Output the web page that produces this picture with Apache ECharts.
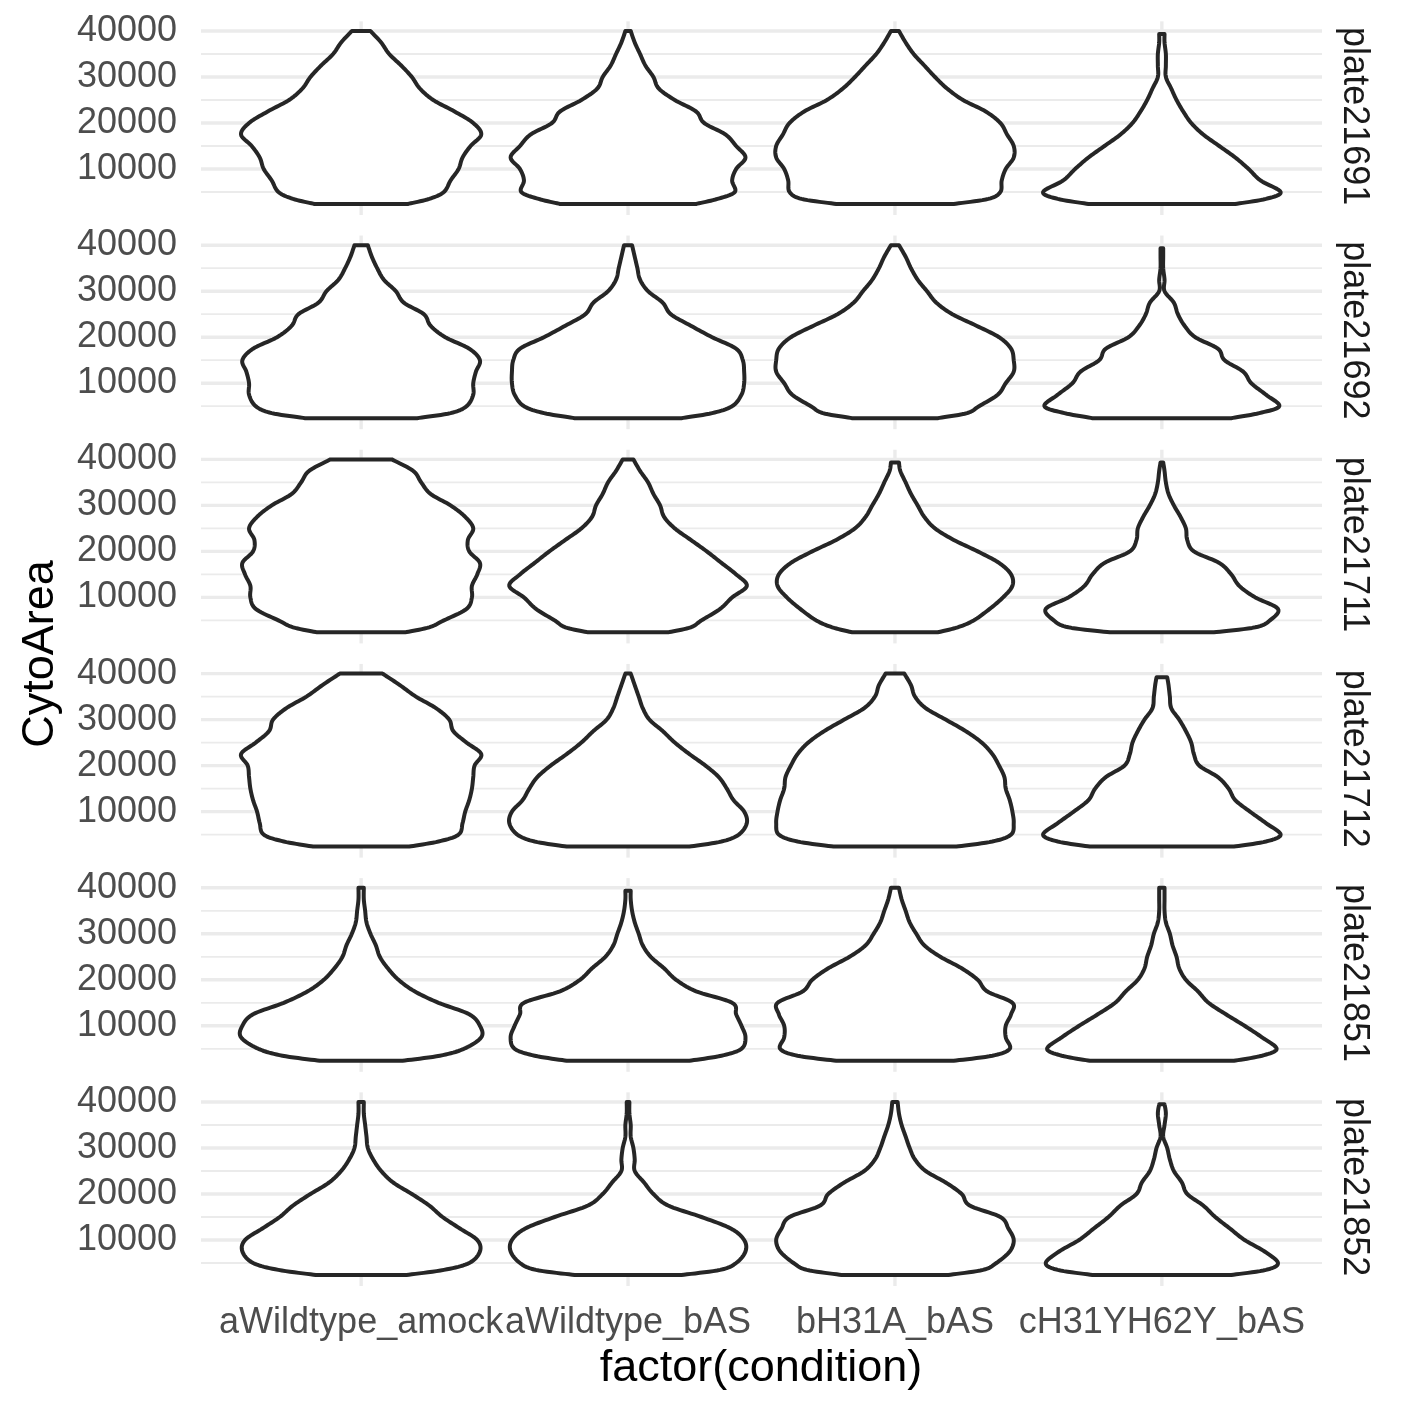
<!DOCTYPE html>
<html><head><meta charset="utf-8">
<script src="https://cdn.jsdelivr.net/npm/echarts@6/dist/echarts.min.js"></script>
<style>html,body{margin:0;padding:0;background:#fff}#chart{width:1417px;height:1417px}</style>
</head><body><div id="chart"></div><script>
// ---------------- DATA ----------------
const categories = ['aWildtype_amock', 'aWildtype_bAS', 'bH31A_bAS', 'cH31YH62Y_bAS'];
const plates = ['plate21691', 'plate21692', 'plate21711', 'plate21712', 'plate21851', 'plate21852'];
const xPositions = [1, 2, 3, 4];
// CytoArea levels at which the violin widths are read (first = data minimum, last = default maximum)
const yLevels = [2400, 3500, 5000, 7500, 10000, 12500, 15000, 17500, 20000, 22500, 25000, 27500, 30000, 32500, 35000, 37500, 40000];
const yMajorTicks = [10000, 20000, 30000, 40000];
const yMinorTicks = [5000, 15000, 25000, 35000];

// violin width (% of one category step) at each level, bottom -> top, one list per condition
const p21691 = [
  [35, 51, 62, 67, 73, 76, 82, 90, 84, 70, 54, 44, 38, 30, 21, 15, 7],
  [51, 67, 80, 78, 81, 88, 81, 73, 57, 51, 35, 23, 19, 13, 9, 5, 2],
  [44, 70, 79, 80, 83, 89, 89, 84, 79, 68, 51, 39, 30, 22, 14, 8, 3],
  [55, 78, 89, 74, 65, 55, 43, 31, 22, 16, 11, 7, 3, 3, 3, 2, 2]
];
const p21692 = [
  [42, 67, 79, 84, 84, 86, 89, 81, 63, 52, 47, 32, 26, 17, 12, 8, 5],
  [40, 63, 78, 85, 87, 87, 86, 81, 63, 47, 32, 26, 15, 9, 7, 5, 3],
  [32, 54, 63, 77, 83, 89, 89, 87, 78, 61, 43, 31, 24, 17, 12, 8, 3],
  [52, 73, 88, 78, 67, 61, 47, 42, 25, 17, 12, 9, 2, 2, 1, 1, 1]
];
const p21711 = [
  [33, 51, 62, 79, 83, 83, 87, 89, 81, 80, 84, 78, 67, 52, 45, 39, 23],
  [30, 47, 55, 69, 78, 89, 81, 70, 59, 47, 35, 27, 24, 19, 15, 9, 4],
  [32, 47, 59, 71, 81, 88, 87, 78, 62, 44, 30, 22, 17, 12, 8, 4, 3],
  [39, 70, 81, 87, 70, 58, 52, 43, 24, 19, 18, 14, 9, 5, 3, 2, 1]
];
const p21712 = [
  [36, 58, 73, 76, 78, 81, 83, 84, 85, 90, 79, 69, 66, 56, 41, 29, 16],
  [46, 70, 83, 89, 87, 79, 74, 68, 58, 46, 35, 26, 16, 11, 8, 5, 2],
  [46, 73, 87, 89, 88, 86, 83, 82, 78, 73, 65, 53, 38, 23, 15, 12, 7],
  [54, 78, 89, 78, 66, 55, 50, 42, 28, 24, 22, 18, 13, 7, 6, 5, 4]
];
const p21851 = [
  [31, 59, 77, 90, 89, 81, 58, 40, 28, 20, 14, 11, 7, 4, 3, 2, 2],
  [46, 70, 85, 88, 85, 81, 78, 51, 36, 27, 17, 11, 8, 5, 3, 2, 2],
  [44, 73, 86, 83, 83, 87, 88, 69, 62, 50, 34, 22, 16, 11, 8, 5, 3],
  [54, 75, 86, 75, 62, 48, 35, 27, 18, 13, 11, 8, 6, 3, 2, 2, 2]
];
const p21852 = [
  [34, 62, 81, 89, 87, 74, 61, 51, 38, 24, 15, 9, 5, 4, 3, 2, 2],
  [40, 69, 81, 88, 87, 77, 55, 30, 19, 12, 5, 5, 4, 2, 2, 1, 1],
  [40, 66, 76, 86, 89, 85, 79, 56, 50, 38, 23, 15, 11, 8, 5, 3, 2],
  [52, 78, 87, 77, 62, 51, 40, 31, 19, 15, 9, 6, 4, 1, 2, 3, 2]
];
// maximum CytoArea of each violin (top of the violin)
const top21691 = [40000, 40000, 40000, 39350];
const top21692 = [40000, 40000, 40000, 39350];
const top21711 = [40000, 40000, 39350, 39350];
const top21712 = [40000, 40000, 40000, 39200];
const top21851 = [40000, 39350, 40000, 40000];
const top21852 = [40000, 40000, 40000, 39500];

const violinWidths = [p21691, p21692, p21711, p21712, p21851, p21852];
const violinTops = [top21691, top21692, top21711, top21712, top21851, top21852];

// ---------------- LAYOUT / STYLE ----------------
const FONT = '"Liberation Sans", Arial, Helvetica, sans-serif';
const GRID_LEFT = 201, GRID_WIDTH = 1121;
const TOP0 = 21.34, ROW_STEP = 214.2, ROW_H = 193.66;
const GRID_COLOR = '#EBEBEB';

function catmullRom(pts, steps) {
  const out = [];
  const n = pts.length;
  for (let i = 0; i < n - 1; i++) {
    const p0 = pts[Math.max(0, i - 1)], p1 = pts[i], p2 = pts[i + 1], p3 = pts[Math.min(n - 1, i + 2)];
    for (let s = 0; s < steps; s++) {
      const t = s / steps, t2 = t * t, t3 = t2 * t;
      const f = k => 0.5 * ((2 * p1[k]) + (-p0[k] + p2[k]) * t + (2 * p0[k] - 5 * p1[k] + 4 * p2[k] - p3[k]) * t2 + (-p0[k] + 3 * p1[k] - 3 * p2[k] + p3[k]) * t3);
      out.push([f(0), f(1)]);
    }
  }
  out.push(pts[n - 1]);
  return out;
}

function makeViolinRenderer(row) {
  return function (params, api) {
    const xv = api.value(0);
    const ci = Math.round(xv) - 1;
    const widths = violinWidths[row][ci];
    const topVal = violinTops[row][ci];
    const unit = api.size([1, 0])[0];
    const right = [], left = [];
    for (let i = 0; i < yLevels.length; i++) {
      const yv = (i === yLevels.length - 1) ? topVal : yLevels[i];
      const c = api.coord([xv, yv]);
      const h = widths[i] / 100 * unit / 2;
      right.push([c[0] + h, c[1]]);
      left.push([c[0] - h, c[1]]);
    }
    left.reverse();
    const pts = catmullRom(right, 10).concat(catmullRom(left, 10));
    return {
      type: 'polygon',
      shape: { points: pts },
      style: { fill: '#ffffff', stroke: '#262626', lineWidth: 4, lineJoin: 'round' }
    };
  };
}

function renderGridLines(params, api) {
  const cs = params.coordSys;
  const kind = api.value(2);
  if (kind === 2) {
    const p = api.coord([api.value(0), 20000]);
    return { type: 'line', shape: { x1: p[0], y1: cs.y, x2: p[0], y2: cs.y + cs.height },
      style: { stroke: GRID_COLOR, lineWidth: 3.4 } };
  }
  const p = api.coord([1, api.value(1)]);
  return { type: 'line', shape: { x1: cs.x, y1: p[1], x2: cs.x + cs.width, y2: p[1] },
    style: { stroke: GRID_COLOR, lineWidth: kind === 0 ? 3.4 : 1.8 } };
}

const gridLineData = []
  .concat(yMajorTicks.map(v => [2.5, v, 0]))
  .concat(yMinorTicks.map(v => [2.5, v, 1]))
  .concat(xPositions.map(x => [x, 20000, 2]));

const grids = [], xAxes = [], yAxes = [], series = [], graphics = [];
plates.forEach((plate, r) => {
  const top = TOP0 + r * ROW_STEP;
  grids.push({ left: GRID_LEFT, width: GRID_WIDTH, top: top, height: ROW_H, containLabel: false });
  xAxes.push({
    type: 'value', gridIndex: r, min: 0.4, max: 4.6,
    axisLine: { show: false }, axisTick: { show: false }, splitLine: { show: false },
    axisLabel: {
      show: r === plates.length - 1,
      customValues: xPositions,
      formatter: v => (Math.abs(v - Math.round(v)) < 1e-6 && v >= 1 && v <= 4) ? categories[Math.round(v) - 1] : '',
      fontFamily: FONT, fontSize: 36, color: '#4D4D4D', margin: 17, lineHeight: 40
    }
  });
  yAxes.push({
    type: 'value', gridIndex: r, min: 0, max: 42100, interval: 10000,
    axisLine: { show: false }, axisTick: { show: false }, splitLine: { show: false },
    axisLabel: {
      formatter: v => (v > 0 && v % 10000 === 0 && v <= 40000) ? String(v) : '',
      fontFamily: FONT, fontSize: 36, color: '#4D4D4D', margin: 24
    }
  });
  series.push({
    type: 'custom', xAxisIndex: r, yAxisIndex: r, z: 1, silent: true,
    renderItem: renderGridLines, data: gridLineData
  });
  series.push({
    type: 'custom', xAxisIndex: r, yAxisIndex: r, z: 2, silent: true,
    renderItem: makeViolinRenderer(r), data: xPositions.map(x => [x, 20000])
  });
  graphics.push({
    type: 'text', x: 1354, y: top + ROW_H / 2 - 2, rotation: -Math.PI / 2,
    style: { text: plate, font: '36px ' + FONT, fill: '#1A1A1A', textAlign: 'center', textVerticalAlign: 'middle', align: 'center', verticalAlign: 'middle' }
  });
});

graphics.push({
  type: 'text', x: 41, y: 654, rotation: Math.PI / 2,
  style: { text: 'CytoArea', font: '45px ' + FONT, fill: '#000000', textAlign: 'center', textVerticalAlign: 'middle', align: 'center', verticalAlign: 'middle' }
});
graphics.push({
  type: 'text', x: 761, y: 1369,
  style: { text: 'factor(condition)', font: '45px ' + FONT, fill: '#000000', textAlign: 'center', textVerticalAlign: 'middle', align: 'center', verticalAlign: 'middle' }
});

const chart = echarts.init(document.getElementById('chart'), null, { renderer: 'canvas' });
chart.setOption({
  animation: false,
  backgroundColor: '#ffffff',
  grid: grids, xAxis: xAxes, yAxis: yAxes, series: series,
  graphic: { elements: graphics }
});
</script></body></html>
